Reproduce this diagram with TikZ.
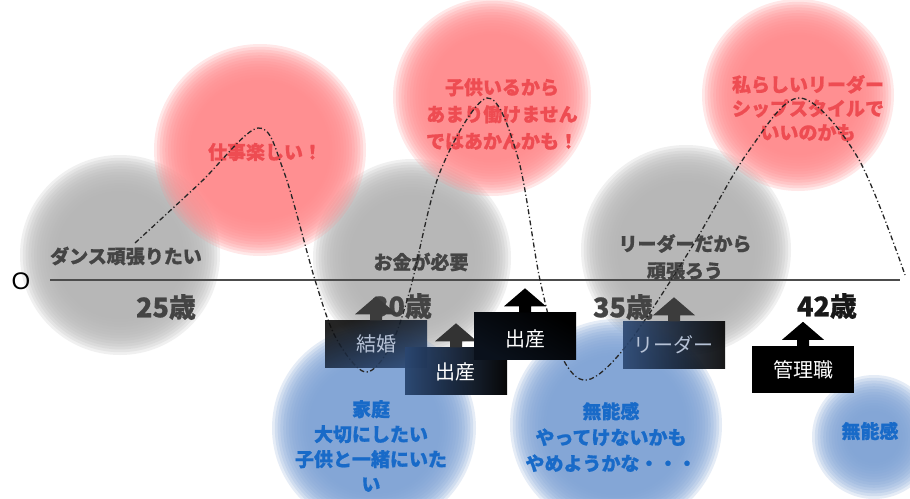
\documentclass[tikz,border=0pt]{standalone}
\usepackage{fontspec}
\setmainfont{Liberation Sans}
\newfontfamily\jp{Noto Sans CJK JP}[BoldFeatures={FakeBold=0.8}]
\definecolor{cgray}{RGB}{182,182,182}
\definecolor{cred}{RGB}{255,140,142}
\definecolor{cblue}{RGB}{128,164,214}
\definecolor{tgray}{RGB}{68,68,68}
\definecolor{tred}{RGB}{238,76,82}
\definecolor{tblue}{RGB}{24,106,200}
\definecolor{navy}{RGB}{42,70,112}
\definecolor{paletxt}{RGB}{182,194,214}
\definecolor{arrgray}{RGB}{60,60,60}
\newcommand\blob[4]{\foreach \k in {0,...,13}{\fill[#4, fill opacity=0.2] (#1,#2) circle ({#3+10-2.8*\k});}}
\newcommand\milearrow[3]{\fill[#2] ([xshift=-6pt]#1) -- ++(0,-6) -- ++(-15,0) -- ++(21,-18) -- ++(21,18) -- ++(-15,0) -- ++(0,6) -- cycle;}
\tikzset{
  lbl/.style={inner sep=0pt, align=center, font=\jp\bfseries\fontsize{19}{25}\selectfont},
  glbl/.style={lbl, text=tgray},
  rlbl/.style={lbl, text=tred},
  blbl/.style={lbl, text=tblue},
  agelbl/.style={inner sep=0pt, font=\jp\bfseries\fontsize{27}{27}\selectfont, text=tgray},
  mbox/.style={minimum width=102pt, minimum height=47pt, inner sep=0pt},
  btxt/.style={inner sep=0pt, font=\jp\fontsize{20}{20}\selectfont},
  curve/.style={line width=1.3pt, color=black!85, dash pattern=on 5pt off 2.5pt on 1.2pt off 2.5pt},
  axisline/.style={line width=1.5pt, color=black!70}
}
\begin{document}
\begin{tikzpicture}[x=1pt,y=-1pt]
\useasboundingbox[fill=white] (0,0) rectangle (910,498);
% blurred circles
\blob{120}{255}{90}{cgray}
\blob{412}{258}{89}{cgray}
\blob{686}{250}{95}{cgray}
\blob{260}{150}{96}{cred}
\blob{492}{97}{89}{cred}
\blob{798}{95}{86}{cred}
\blob{374}{428}{92}{cblue}
\blob{616}{425}{96}{cblue}
\blob{874}{437}{52}{cblue}
% axis
\node[inner sep=0pt, font=\fontsize{24}{24}\selectfont] (o) at (21,281) {O};
\coordinate (axL) at (50,280);
\coordinate (axR) at (900,280);
\draw[axisline] (axL) -- (axR);
% labels
\node[glbl] (dance) at (126,256) {ダンス頑張りたい};
\node[glbl] (okane) at (421,262) {お金が必要};
\node[glbl, font=\jp\bfseries\fontsize{19}{27}\selectfont] (leader) at (685,257) {リーダーだから\\頑張ろう};
\node[rlbl] (shigoto) at (265,152) {仕事楽しい！};
\node[rlbl, font=\jp\bfseries\fontsize{19}{27}\selectfont] (kodomo) at (502,114) {子供いるから\\あまり働けません\\ではあかんかも！};
\node[rlbl, font=\jp\bfseries\fontsize{19}{24}\selectfont] (watashi) at (808,108) {私らしいリーダー\\シップスタイルで\\いいのかも};
\node[blbl] (katei) at (371,446) {家庭\\大切にしたい\\子供と一緒にいた\\い};
\node[blbl, font=\jp\bfseries\fontsize{19}{26}\selectfont] (muno) at (611,437) {無能感\\やってけないかも\\やめようかな・・・};
\node[blbl] (muno2) at (870,431) {無能感};
% ages
\node[agelbl] (a25) at (166,307) {25歳};
\node[agelbl] (a30) at (402,306) {30歳};
\node[agelbl] (a35) at (623,307) {35歳};
\node[agelbl, text=black!90] (a42) at (827,306) {42歳};
% curve
\draw[curve] plot[smooth, tension=0.55] coordinates {(135,243) (200,183) (258,128) (284,172) (315,280) (336,338) (365,372) (390,347) (410,290) (440,172) (487,98) (518,158) (540,280) (561,355) (587,380) (627,345) (690,250) (748,152) (800,98) (858,158) (905,275)};
% milestone boxes
\node[mbox, top color=black!95, bottom color=navy, shading angle=20, opacity=0.9] (bkekkon) at (376,344) {};
\milearrow{bkekkon.north}{arrgray}{}
\node[btxt, text=paletxt] (tkekkon) at (376,344) {結婚};
\node[mbox, left color=navy, right color=black, opacity=0.97] (bshussan1) at (456,371) {};
\milearrow{bshussan1.north}{black!80}{}
\node[btxt, text=white] (tshussan1) at (455,372) {出産};
\node[mbox, top color=black, bottom color=black!75!navy, shading angle=-30] (bshussan2) at (525,336) {};
\milearrow{bshussan2.north}{black}{}
\node[btxt, text=white] (tshussan2) at (525,339) {出産};
\node[mbox, left color=navy, right color=black, opacity=0.9] (bleader) at (674,345) {};
\milearrow{bleader.north}{arrgray}{}
\node[btxt, text=paletxt] (tleader) at (673,345) {リーダー};
\node[mbox, fill=black] (bkanri) at (803,369.5) {};
\milearrow{bkanri.north}{black}{}
\node[btxt, text=white] (tkanri) at (803,370) {管理職};
\end{tikzpicture}
\end{document}
